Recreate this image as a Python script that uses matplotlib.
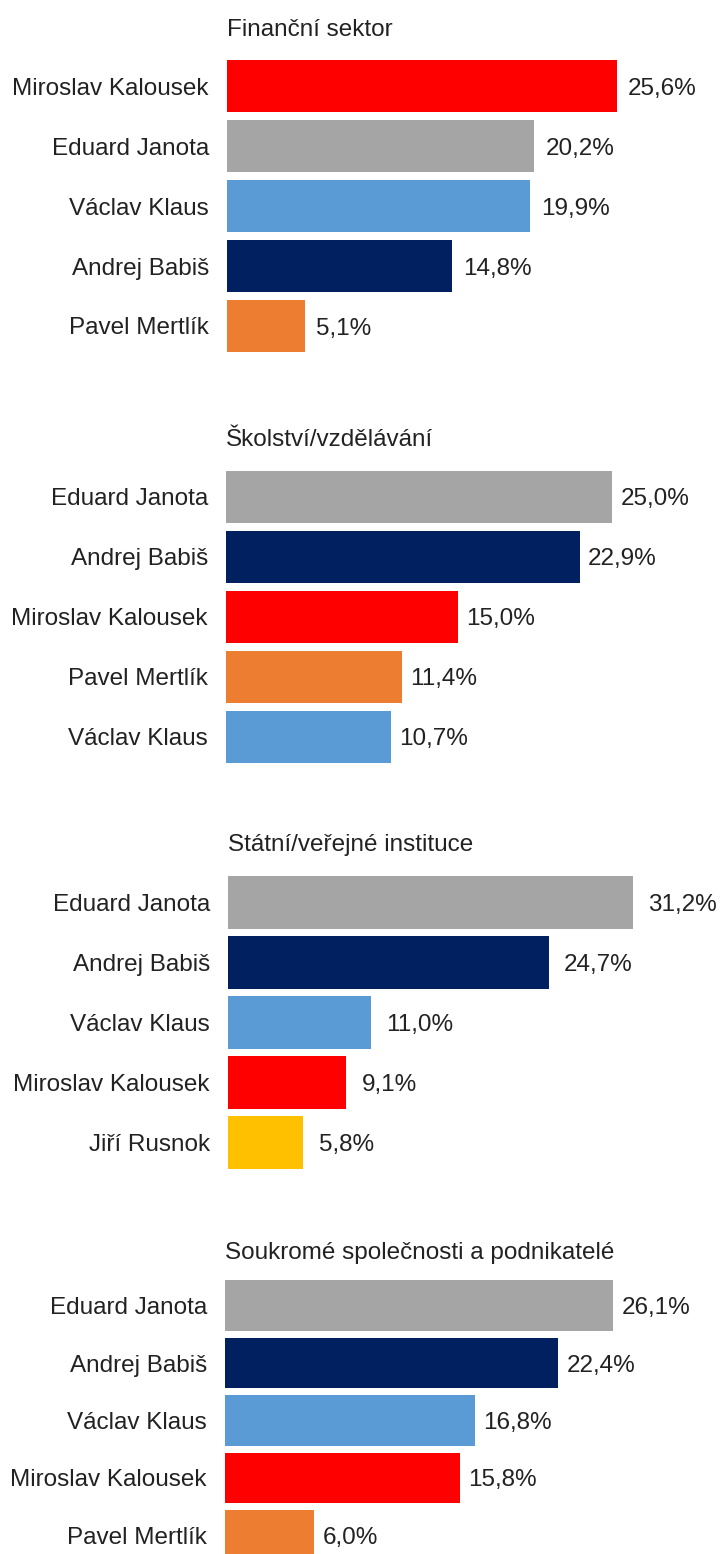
import matplotlib
matplotlib.use("Agg")
import matplotlib.pyplot as plt

plt.rcParams['font.family'] = ['Liberation Sans', 'DejaVu Sans']

# ---- data ----
sectors = ["Finanční sektor", "Školství/vzdělávání",
           "Státní/veřejné instituce", "Soukromé společnosti a podnikatelé"]

names_fin = ["Miroslav Kalousek", "Eduard Janota", "Václav Klaus", "Andrej Babiš", "Pavel Mertlík"]
vals_fin = [25.6, 20.2, 19.9, 14.8, 5.1]

names_sko = ["Eduard Janota", "Andrej Babiš", "Miroslav Kalousek", "Pavel Mertlík", "Václav Klaus"]
vals_sko = [25.0, 22.9, 15.0, 11.4, 10.7]

names_sta = ["Eduard Janota", "Andrej Babiš", "Václav Klaus", "Miroslav Kalousek", "Jiří Rusnok"]
vals_sta = [31.2, 24.7, 11.0, 9.1, 5.8]

names_sou = ["Eduard Janota", "Andrej Babiš", "Václav Klaus", "Miroslav Kalousek", "Pavel Mertlík"]
vals_sou = [26.1, 22.4, 16.8, 15.8, 6.0]

panels_names = [names_fin, names_sko, names_sta, names_sou]
panels_vals = [vals_fin, vals_sko, vals_sta, vals_sou]

# ---- style ----
colors = {
    "Miroslav Kalousek": "#FF0000",
    "Eduard Janota": "#A5A5A5",
    "Václav Klaus": "#5B9BD5",
    "Andrej Babiš": "#002060",
    "Pavel Mertlík": "#ED7D31",
    "Jiří Rusnok": "#FFC000",
}
text_color = "#222222"
W, H = 720, 1554
fig = plt.figure(figsize=(W / 100, H / 100), dpi=100)

# layout in pixels: (axes left, axes top, axes height, x max, title baseline, label pad pt, bar height)
layout = [
    (227, 56, 300, 32.4, 36, 8, 0.87),
    (226, 467, 300, 32.0, 446, 6, 0.87),
    (228, 872.5, 300, 37.9, 851, 11, 0.88),
    (225, 1277, 287, 33.3, 1259, 6, 0.88),
]

for sector, names, vals, (left, top, hgt, xmax, tb, lpad, bh) in zip(
        sectors, panels_names, panels_vals, layout):
    ax = fig.add_axes([left / W, 1 - (top + hgt) / H, (W - left) / W, hgt / H])
    ypos = list(range(len(names)))
    bars = ax.barh(ypos, vals, height=bh, color=[colors[n] for n in names])
    ax.set_ylim(len(names) - 0.5, -0.5)
    ax.set_xlim(0, xmax)
    ax.set_yticks(ypos)
    ax.set_yticklabels(names, fontsize=17.5, color=text_color)
    ax.tick_params(axis='y', length=0, pad=13)
    ax.set_xticks([])
    for s in ax.spines.values():
        s.set_visible(False)
    anns = ax.bar_label(bars, labels=[f"{v:.1f}".replace(".", ",") + "%" for v in vals],
                        padding=lpad, fontsize=17.5, color=text_color)
    for t in anns:
        t.set_verticalalignment('center_baseline')
    fig.text(left / W, 1 - tb / H, sector, fontsize=17.5, color=text_color,
             ha='left', va='baseline')

fig.savefig("out.png", dpi=100)
